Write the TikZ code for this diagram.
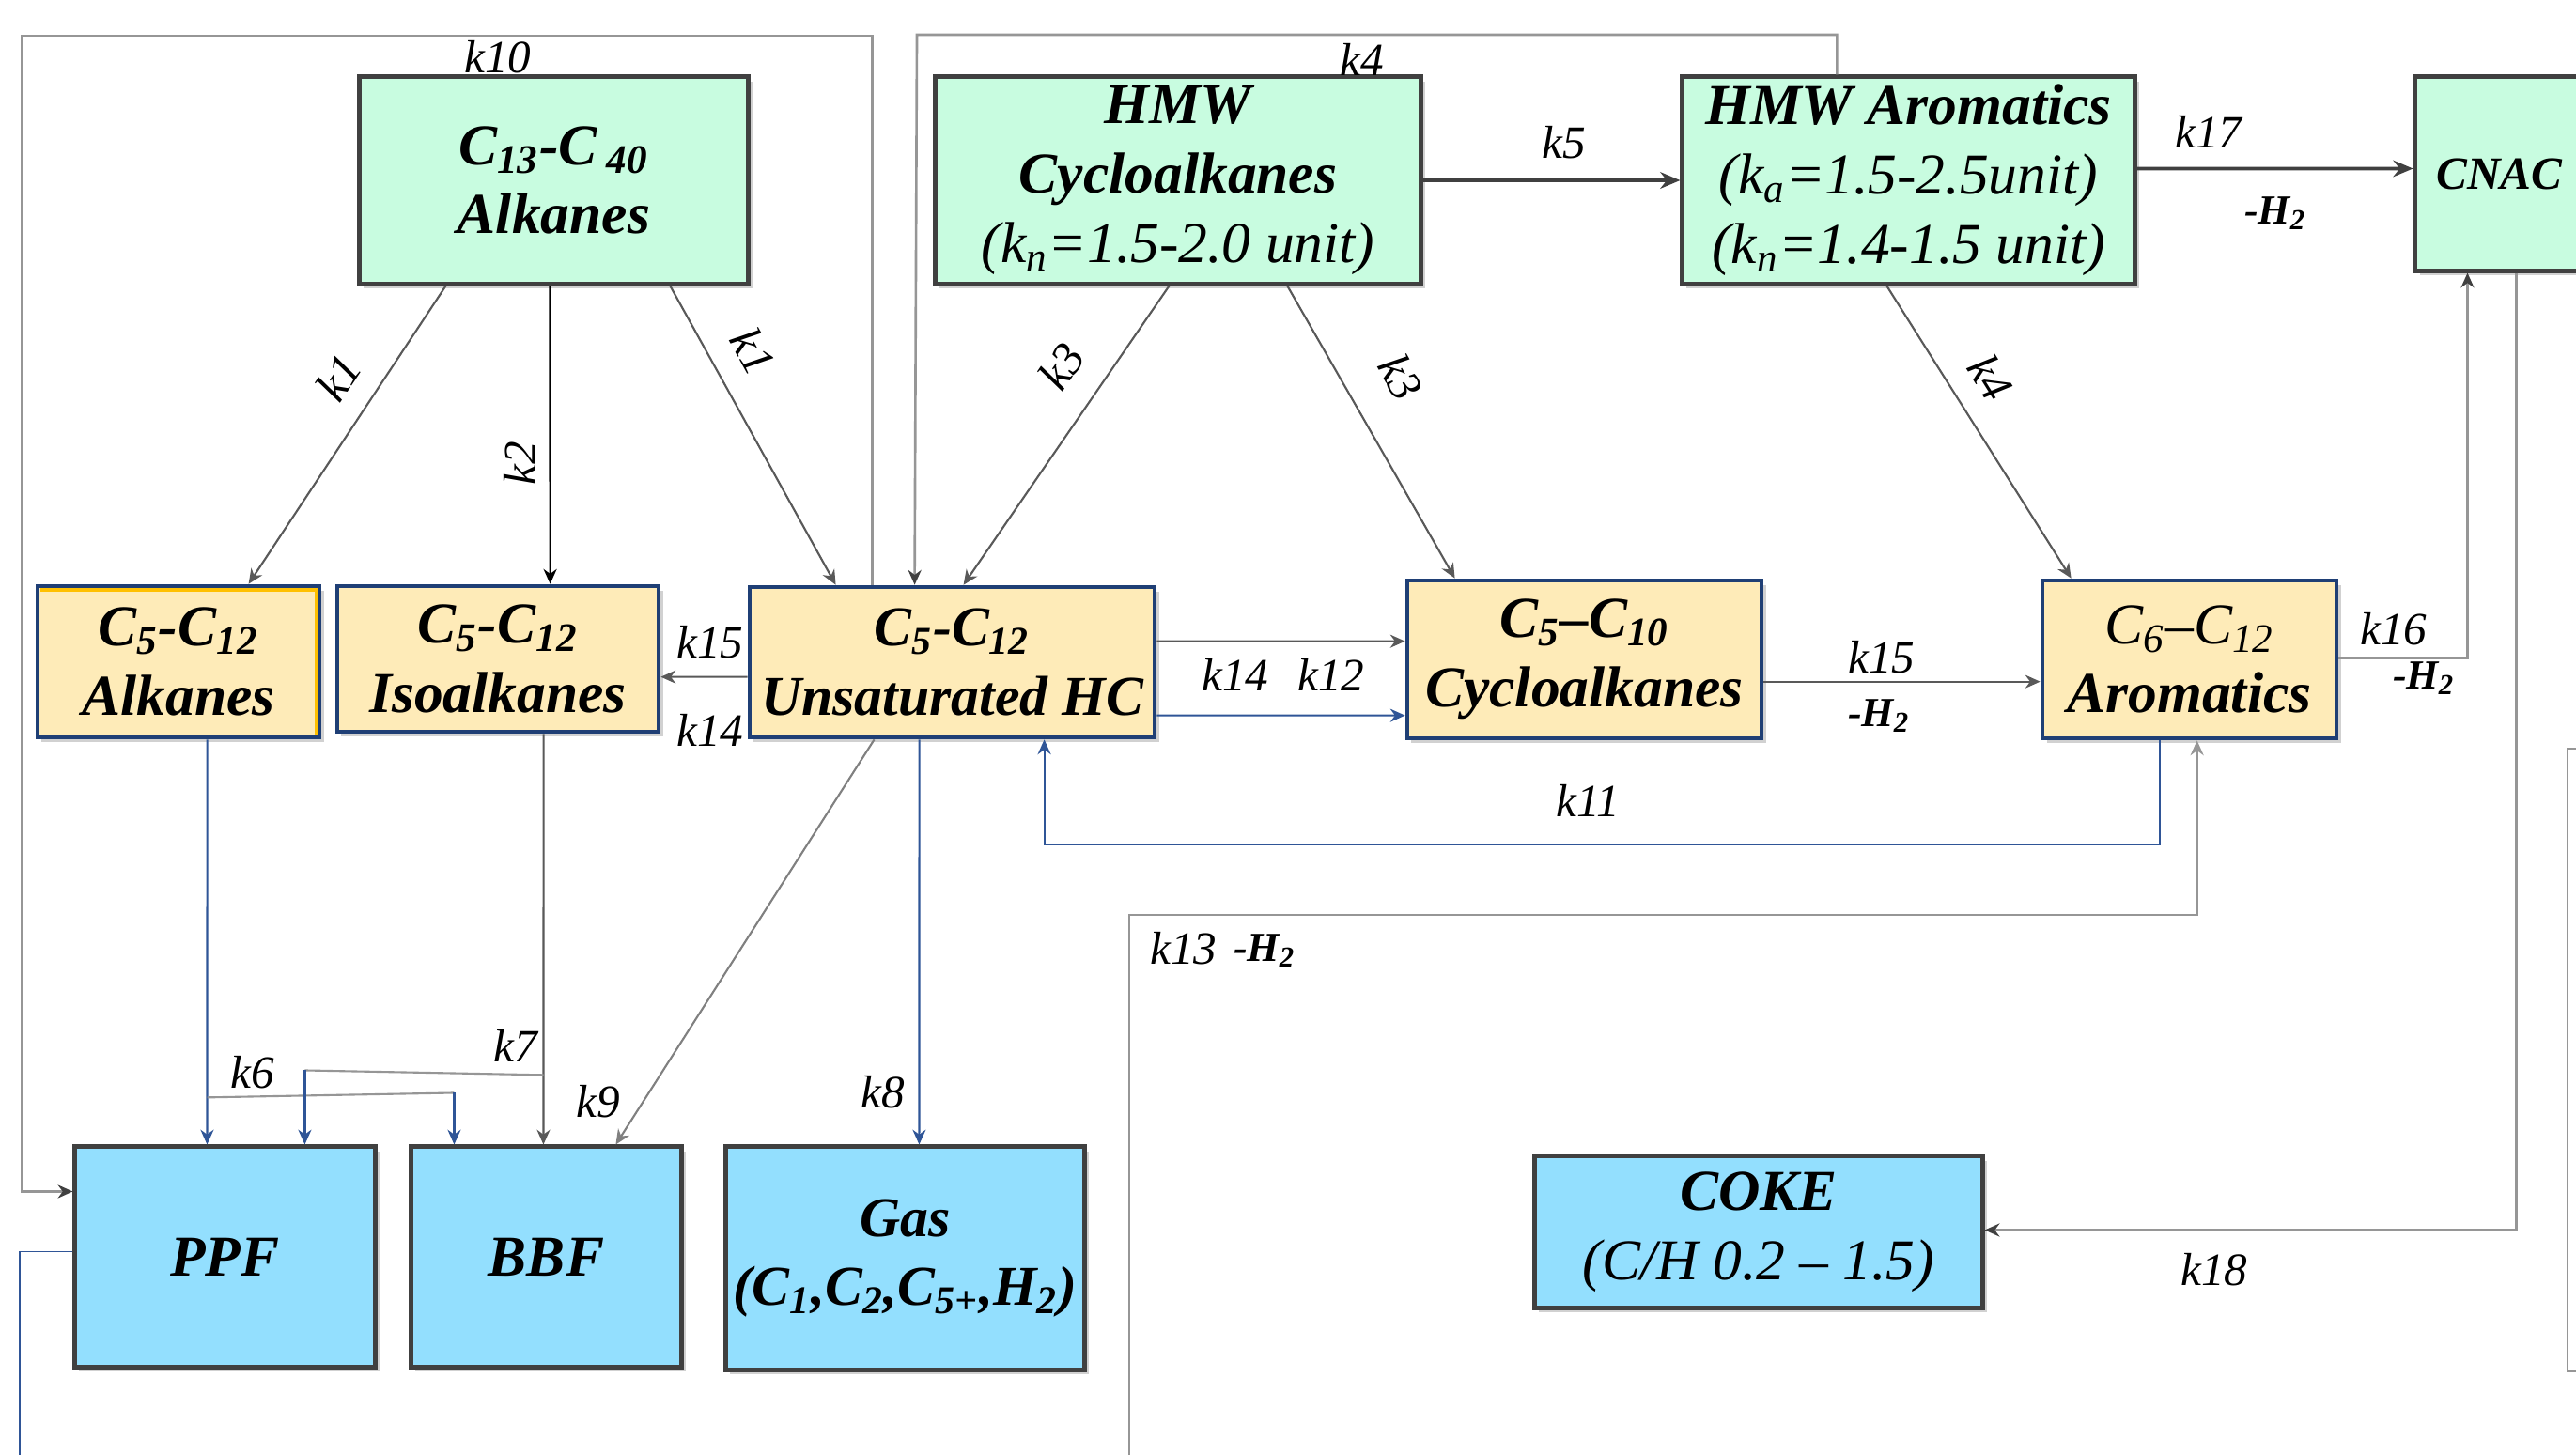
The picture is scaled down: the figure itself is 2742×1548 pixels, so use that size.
\documentclass[tikz,border=0pt]{standalone}
\usepackage{fontspec}
\setmainfont{Liberation Serif}
\usetikzlibrary{arrows.meta,calc,shadows}

\definecolor{mint}{RGB}{200,252,224}
\definecolor{cream}{RGB}{254,235,184}
\definecolor{sky}{RGB}{147,223,254}
\definecolor{boxgray}{RGB}{64,64,64}
\definecolor{navy}{RGB}{31,63,117}
\definecolor{gold}{RGB}{255,192,0}
\definecolor{linegray}{RGB}{89,89,89}
\definecolor{loopgray}{RGB}{150,150,150}
\definecolor{flowblue}{RGB}{47,85,151}

\newcommand{\lowidx}[1]{\textsubscript{#1}}

\tikzset{
  x=0.01cm, y=-0.01cm,
  boxshadow/.style={drop shadow={shadow xshift=1.3pt, shadow yshift=-1.3pt, fill=black, opacity=0.18}},
  basebox/.style={rectangle, align=center, inner sep=0pt, boxshadow,
    font=\fontsize{17.5}{21}\selectfont\bfseries\itshape},
  feedbox/.style={basebox, draw=boxgray, line width=1.4pt, fill=mint},
  midbox/.style={basebox, draw=navy, line width=1.3pt, fill=cream},
  prodbox/.style={basebox, draw=boxgray, line width=1.4pt, fill=sky},
  conn/.style={draw=linegray, line width=0.6pt, -{Stealth[length=4.5pt,width=4pt]}},
  bconn/.style={draw=flowblue, line width=0.6pt, -{Stealth[length=4.5pt,width=4pt]}},
  mainflow/.style={draw=boxgray, line width=1.1pt, -{Stealth[length=6pt,width=5pt]}},
  returnline/.style={draw=loopgray, line width=0.75pt, -{Stealth[length=4.5pt,width=4pt,color=boxgray]}},
  lab/.style={inner sep=0pt, font=\fontsize{14}{16}\selectfont\itshape},
  hlab/.style={inner sep=0pt, font=\fontsize{12.5}{14}\selectfont\bfseries\itshape}
}

\begin{document}
\begin{tikzpicture}
\useasboundingbox (0,0) rectangle (2742,1548);
\clip (0,0) rectangle (2742,1548);
\fill[white] (0,0) rectangle (2742,1548);

% feed lumps
\node[feedbox, minimum width=4.13cm, minimum height=2.20cm] (c13) at (589.5,192)
  {C\lowidx{13}-C\,\lowidx{40}\\Alkanes};
\node[feedbox, minimum width=5.16cm, minimum height=2.20cm] (hmwc) at (1254,192)
  {HMW\\Cycloalkanes\\{\mdseries(k\lowidx{n}=1.5-2.0 unit)}};
\node[feedbox, minimum width=4.81cm, minimum height=2.20cm] (hmwa) at (2031.5,192)
  {HMW Aromatics\\{\mdseries(k\lowidx{a}=1.5-2.5unit)}\\{\mdseries(k\lowidx{n}=1.4-1.5 unit)}};
\node[feedbox, minimum width=1.79cm, minimum height=2.06cm,
  font=\fontsize{14}{17}\selectfont\bfseries\itshape] (cnac) at (2660.5,185) {CNAC};

% gasoline-range lumps
\node[midbox, minimum width=3.00cm, minimum height=1.61cm] (alk) at (190,704.5)
  {C\lowidx{5}-C\lowidx{12}\\Alkanes};
\draw[gold, line width=1.1pt] ($(alk.north west)+(5,6)$) -- ($(alk.north east)+(-5,6)$)
  -- ($(alk.south east)+(-5,-4)$);
\node[midbox, minimum width=3.42cm, minimum height=1.55cm] (iso) at (530,701.5)
  {C\lowidx{5}-C\lowidx{12}\\Isoalkanes};
\node[midbox, minimum width=4.31cm, minimum height=1.60cm,
  font=\fontsize{17}{21}\selectfont\bfseries\itshape] (uhc) at (1013.5,705)
  {C\lowidx{5}-C\lowidx{12}\\Unsaturated HC};
\node[midbox, minimum width=3.77cm, minimum height=1.68cm] (cyc) at (1686.5,702)
  {C\lowidx{5}--C\lowidx{10}\\Cycloalkanes};
\node[midbox, minimum width=3.13cm, minimum height=1.68cm] (aro) at (2330.5,702)
  {{\mdseries C\lowidx{6}--C\lowidx{12}}\\Aromatics};

% products
\node[prodbox, minimum width=3.19cm, minimum height=2.34cm] (ppf) at (239.5,1338) {PPF};
\node[prodbox, minimum width=2.87cm, minimum height=2.34cm] (bbf) at (581.5,1338) {BBF};
\node[prodbox, minimum width=3.81cm, minimum height=2.37cm,
  font=\fontsize{17}{21}\selectfont\bfseries\itshape] (gas) at (963.5,1339.5)
  {Gas\\(C\lowidx{1},C\lowidx{2},C\lowidx{5+},H\lowidx{2})};
\node[prodbox, minimum width=4.76cm, minimum height=1.61cm] (coke) at (1872,1311.5)
  {COKE\\{\mdseries(C/H 0.2 -- 1.5)}};

% cracking of the heavy feed
\draw[conn] ($(c13.south west)+(94,0)$) -- ($(alk.north west)+(227,0)$);
\draw[conn, draw=black] ($(c13.south west)+(205,0)$) -- ($(iso.north west)+(229,0)$);
\draw[conn] ($(c13.south west)+(333,0)$) -- ($(uhc.north west)+(94,0)$);
\draw[conn] ($(hmwc.south west)+(251,0)$) -- ($(uhc.north west)+(230,0)$);
\draw[conn] ($(hmwc.south west)+(377,0)$) -- ($(cyc.north west)+(53,0)$);
\draw[conn] ($(hmwa.south west)+(220,0)$) -- ($(aro.north west)+(33,0)$);
\draw[mainflow] (hmwc.east) -- (hmwa.west);
\draw[mainflow] ($(hmwa.north east)+(0,100)$) -- ($(cnac.north west)+(0,100)$);

% long return lines across the top
\coordinate (k10corner) at (23,38);
\draw[returnline] ($(uhc.north west)+(133,0)$) |- (k10corner) |- ($(ppf.north west)+(0,50)$);
\coordinate (k4corner) at (976,37);
\draw[returnline] ($(hmwa.north west)+(167,0)$) |- (k4corner) -- ($(uhc.north west)+(178,0)$);

% reactions among the C5-C12 lumps
\draw[conn] ($(uhc.north west)+(0,98)$) -- ($(iso.north east)+(0,99)$);
\draw[conn] ($(uhc.north east)+(0,60)$) -- ($(cyc.north west)+(0,67)$);
\draw[bconn] ($(uhc.north east)+(0,139)$) -- ($(cyc.north west)+(0,146)$);
\draw[conn] ($(cyc.north east)+(0,110)$) -- ($(aro.north west)+(0,110)$);
\draw[returnline] ($(aro.north east)+(0,85)$) -| ($(cnac.south west)+(58,0)$);
\draw[returnline] ($(cnac.south west)+(110,0)$) |- ($(coke.north east)+(0,81)$);
\draw[bconn] ($(aro.south west)+(127,0)$) -- ++(0,111) -| ($(uhc.south west)+(316,0)$);
\coordinate (k13tail) at (1202,1560);
\draw[conn, draw=loopgray] (k13tail) |- ($(aro.south west)+(167,186)$) -- ($(aro.south west)+(167,0)$);

% routes to the products
\draw[bconn] ($(alk.south west)+(183,0)$) -- ($(ppf.north west)+(143,0)$);
\draw[draw=loopgray, line width=0.6pt] ($(alk.south west)+(183,381)$) -- ($(bbf.north west)+(48,-55)$);
\draw[bconn] ($(bbf.north west)+(48,-55)$) -- ($(bbf.north west)+(48,0)$);
\draw[conn] ($(iso.south west)+(222,0)$) -- ($(bbf.north west)+(143,0)$);
\draw[draw=loopgray, line width=0.6pt] ($(iso.south west)+(222,363)$) -- ($(ppf.north west)+(247,-79)$);
\draw[bconn] ($(ppf.north west)+(247,-79)$) -- ($(ppf.north west)+(247,0)$);
\draw[conn, draw=gray] ($(uhc.south west)+(135,0)$) -- ($(bbf.north west)+(220,0)$);
\draw[bconn] ($(uhc.south west)+(183,0)$) -- ($(gas.north west)+(208,0)$);
\coordinate (ppftail) at (21,1560);
\draw[flowblue, line width=0.5pt] ($(ppf.north west)+(0,114)$) -| (ppftail);

% edge of a further box at the right border
\draw[loopgray, line width=0.8pt] (2760,797) -| (2733,1460) -- (2760,1460);

% rate constants
\node[lab] (t10) at (530,61) {k10};
\node[lab] (t4a) at (1450,63) {k4};
\node[lab] (t5) at (1665,152) {k5};
\node[lab] (t17) at (2351,140) {k17};
\node[hlab] (h17) at (2422,227) {-H\lowidx{2}};
\node[lab, rotate=56] (t1a) at (360,402) {k1};
\node[lab, rotate=90] (t2) at (553,493) {k2};
\node[lab, rotate=-61] (t1b) at (802,374) {k1};
\node[lab, rotate=56] (t3a) at (1130,390) {k3};
\node[lab, rotate=-61] (t3b) at (1491,402) {k3};
\node[lab, rotate=-58] (t4b) at (2119,402) {k4};
\node[lab] (t15a) at (756,684) {k15};
\node[lab] (t14a) at (756,777) {k14};
\node[lab] (t14b) at (1315,718) {k14};
\node[lab] (t12) at (1417,718) {k12};
\node[lab] (t15b) at (2003,700) {k15};
\node[hlab] (h15) at (2000,762) {-H\lowidx{2}};
\node[lab] (t16) at (2548,670) {k16};
\node[hlab] (h16) at (2580,722) {-H\lowidx{2}};
\node[lab] (t11) at (1690,852) {k11};
\node[lab] (t13) at (1260,1010) {k13};
\node[hlab] (h13) at (1346,1012) {-H\lowidx{2}};
\node[lab] (t6) at (269,1142) {k6};
\node[lab] (t7) at (549,1113) {k7};
\node[lab] (t9) at (637,1173) {k9};
\node[lab] (t8) at (940,1163) {k8};
\node[lab] (t18) at (2357,1352) {k18};
\end{tikzpicture}
\end{document}
